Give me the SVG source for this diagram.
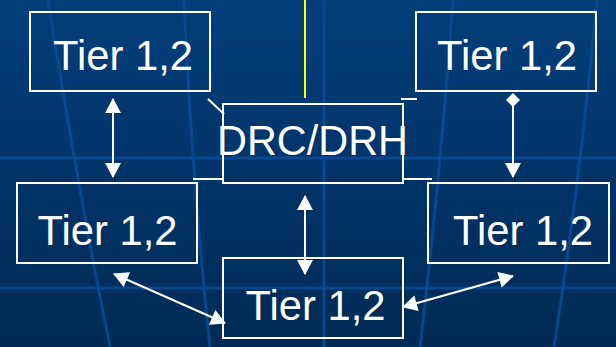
<svg xmlns="http://www.w3.org/2000/svg" width="616" height="347" viewBox="0 0 616 347">
  <style>
    .box { fill: none; stroke: #ffffff; stroke-width: 2; }
    .lbl { font-family: "Liberation Sans", Arial, sans-serif; font-size: 43px; fill: #ffffff; text-anchor: middle; }
    .mer { fill: none; stroke: #0a4e98; stroke-width: 3; opacity: 0.8; }
    .con { stroke: #ffffff; stroke-width: 2; fill: none; }
    .stub { stroke: #ffffff; stroke-width: 2; fill: none; }
  </style>
  <defs>
    <linearGradient id="bg" x1="0" y1="0" x2="0" y2="1">
      <stop offset="0" stop-color="#033e7b"/>
      <stop offset="1" stop-color="#002a55"/>
    </linearGradient>
    <marker id="arr" markerUnits="userSpaceOnUse" markerWidth="16" markerHeight="16" viewBox="0 0 15 16" refX="14" refY="8" orient="auto-start-reverse">
      <path d="M0,0 L15,8 L0,16 z" fill="#ffffff"/>
    </marker>
    <marker id="dia" markerUnits="userSpaceOnUse" markerWidth="14" markerHeight="14" viewBox="0 0 14 14" refX="7" refY="7" orient="auto">
      <path d="M0,7 L7,0 L14,7 L7,14 z" fill="#ffffff"/>
    </marker>
  </defs>

  <g id="background">
    <rect x="0" y="0" width="616" height="347" fill="url(#bg)"/>
    <path class="mer" d="M48,0 Q80,200 110,347"/>
    <path class="mer" d="M184,0 Q192,180 210,347"/>
    <path class="mer" d="M324,0 L324,347"/>
    <path class="mer" d="M453,0 Q440,180 420,347"/>
    <path class="mer" d="M597,0 Q580,180 554,347"/>
    <path class="mer" d="M0,158 L616,158"/>
    <path class="mer" d="M0,288 L616,288"/>
    <line x1="305" y1="0" x2="305" y2="98" stroke="#ffff00" stroke-width="2"/>
  </g>

  <g id="connectors">
    <line class="con" x1="113" y1="99" x2="113" y2="177" marker-start="url(#arr)" marker-end="url(#arr)"/>
    <line class="con" x1="513" y1="100" x2="513" y2="177" marker-start="url(#dia)" marker-end="url(#arr)"/>
    <line class="con" x1="305" y1="196" x2="305" y2="274" marker-start="url(#arr)" marker-end="url(#arr)"/>
    <line class="con" x1="114" y1="274" x2="225" y2="323" marker-start="url(#arr)" marker-end="url(#arr)"/>
    <line class="con" x1="403" y1="307" x2="513" y2="276" marker-start="url(#arr)" marker-end="url(#arr)"/>
    <line class="stub" x1="208" y1="99" x2="224" y2="114" stroke-width="1.5"/>
    <line class="stub" x1="401" y1="99" x2="417" y2="99"/>
    <polyline class="stub" points="193,179 224,179"/>
    <polyline class="stub" points="402,179 432,179"/>
  </g>

  <g id="node-top-left">
    <rect class="box" x="30" y="12" width="180" height="79"/>
    <text class="lbl" x="123" y="70" textLength="140" lengthAdjust="spacingAndGlyphs">Tier 1,2</text>
  </g>
  <g id="node-top-right">
    <rect class="box" x="416" y="12" width="180" height="79"/>
    <text class="lbl" x="507" y="70" textLength="140" lengthAdjust="spacingAndGlyphs">Tier 1,2</text>
  </g>
  <g id="node-drc">
    <rect class="box" x="223" y="104" width="180" height="79"/>
    <text class="lbl" x="312.5" y="155" textLength="191" lengthAdjust="spacingAndGlyphs">DRC/DRH</text>
  </g>
  <g id="node-bottom-left">
    <rect class="box" x="17" y="183" width="180" height="80"/>
    <text class="lbl" x="107.5" y="245" textLength="140" lengthAdjust="spacingAndGlyphs">Tier 1,2</text>
  </g>
  <g id="node-bottom-right">
    <rect class="box" x="428" y="183" width="181" height="80"/>
    <text class="lbl" x="523" y="245" textLength="140" lengthAdjust="spacingAndGlyphs">Tier 1,2</text>
  </g>
  <g id="node-bottom-center">
    <rect class="box" x="223" y="258" width="180" height="80"/>
    <text class="lbl" x="315.5" y="320" textLength="140" lengthAdjust="spacingAndGlyphs">Tier 1,2</text>
  </g>
</svg>
